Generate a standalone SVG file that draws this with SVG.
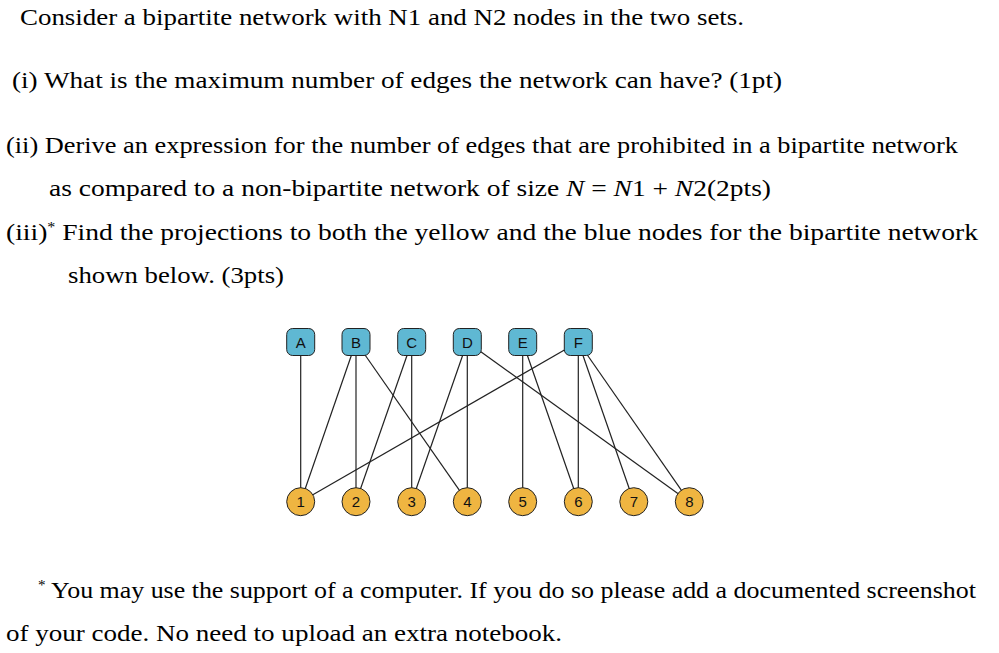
<svg xmlns="http://www.w3.org/2000/svg" width="999" height="653" viewBox="0 0 999 653">
<style>
.t{font-family:"Liberation Serif",serif;font-size:24px;fill:#000}
.i{font-style:italic}
.e line{stroke:#222;stroke-width:1.2}
.top rect{fill:#5fb8d3;stroke:#222;stroke-width:1}
.bot circle{fill:#efb541;stroke:#222;stroke-width:1}
.l{font-family:"Liberation Sans",Arial,sans-serif;font-size:15px;text-anchor:middle;fill:#111}
</style>
<rect width="999" height="653" fill="#fff"/>
<text class="t" x="20" y="25" textLength="724" lengthAdjust="spacingAndGlyphs">Consider a bipartite network with N1 and N2 nodes in the two sets.</text>
<text class="t" x="12" y="88" textLength="770" lengthAdjust="spacingAndGlyphs">(i)  What is the maximum number of edges the network can have? (1pt)</text>
<text class="t" x="6" y="153" textLength="952" lengthAdjust="spacingAndGlyphs">(ii)  Derive an expression for the number of edges that are prohibited in a bipartite network</text>
<text class="t" x="49" y="196" textLength="722" lengthAdjust="spacingAndGlyphs">as compared to a non-bipartite network of size <tspan class="i">N</tspan> = <tspan class="i">N</tspan>1 + <tspan class="i">N</tspan>2(2pts)</text>
<text class="t" x="6" y="240" textLength="972" lengthAdjust="spacingAndGlyphs">(iii)<tspan font-size="14" dy="-8">*</tspan><tspan dy="8"> Find the projections to both the yellow and the blue nodes for the bipartite network</tspan></text>
<text class="t" x="68" y="283" textLength="216" lengthAdjust="spacingAndGlyphs">shown below. (3pts)</text>
<text class="t" x="38" y="598" textLength="938" lengthAdjust="spacingAndGlyphs"><tspan font-size="14" dy="-8">*</tspan><tspan dy="8"> You may use the support of a computer. If you do so please add a documented screenshot</tspan></text>
<text class="t" x="6" y="641" textLength="556" lengthAdjust="spacingAndGlyphs">of your code. No need to upload an extra notebook.</text>
<g class="e" id="connectors">
<line x1="300.7" y1="342" x2="300.7" y2="501.7"/>
<line x1="356" y1="342" x2="300.7" y2="501.7"/>
<line x1="356" y1="342" x2="356" y2="501.7"/>
<line x1="356" y1="342" x2="467.3" y2="501.7"/>
<line x1="411.7" y1="342" x2="356" y2="501.7"/>
<line x1="411.7" y1="342" x2="411.7" y2="501.7"/>
<line x1="467.3" y1="342" x2="411.7" y2="501.7"/>
<line x1="467.3" y1="342" x2="467.3" y2="501.7"/>
<line x1="467.3" y1="342" x2="689.3" y2="501.7"/>
<line x1="522.7" y1="342" x2="522.7" y2="501.7"/>
<line x1="522.7" y1="342" x2="578.3" y2="501.7"/>
<line x1="578.3" y1="342" x2="300.7" y2="501.7"/>
<line x1="578.3" y1="342" x2="578.3" y2="501.7"/>
<line x1="578.3" y1="342" x2="633.8" y2="501.7"/>
<line x1="578.3" y1="342" x2="689.3" y2="501.7"/>
</g>
<g class="top">
<g id="A"><rect x="286.7" y="328.5" width="28" height="27" rx="6"/><text class="l" x="300.7" y="347.5">A</text></g>
<g id="B"><rect x="342" y="328.5" width="28" height="27" rx="6"/><text class="l" x="356" y="347.5">B</text></g>
<g id="C"><rect x="397.7" y="328.5" width="28" height="27" rx="6"/><text class="l" x="411.7" y="347.5">C</text></g>
<g id="D"><rect x="453.3" y="328.5" width="28" height="27" rx="6"/><text class="l" x="467.3" y="347.5">D</text></g>
<g id="E"><rect x="508.7" y="328.5" width="28" height="27" rx="6"/><text class="l" x="522.7" y="347.5">E</text></g>
<g id="F"><rect x="564.3" y="328.5" width="28" height="27" rx="6"/><text class="l" x="578.3" y="347.5">F</text></g>
</g>
<g class="bot">
<g id="n1"><circle cx="300.7" cy="501.7" r="14"/><text class="l" x="300.7" y="507">1</text></g>
<g id="n2"><circle cx="356" cy="501.7" r="14"/><text class="l" x="356" y="507">2</text></g>
<g id="n3"><circle cx="411.7" cy="501.7" r="14"/><text class="l" x="411.7" y="507">3</text></g>
<g id="n4"><circle cx="467.3" cy="501.7" r="14"/><text class="l" x="467.3" y="507">4</text></g>
<g id="n5"><circle cx="522.7" cy="501.7" r="14"/><text class="l" x="522.7" y="507">5</text></g>
<g id="n6"><circle cx="578.3" cy="501.7" r="14"/><text class="l" x="578.3" y="507">6</text></g>
<g id="n7"><circle cx="633.8" cy="501.7" r="14"/><text class="l" x="633.8" y="507">7</text></g>
<g id="n8"><circle cx="689.3" cy="501.7" r="14"/><text class="l" x="689.3" y="507">8</text></g>
</g>
</svg>
